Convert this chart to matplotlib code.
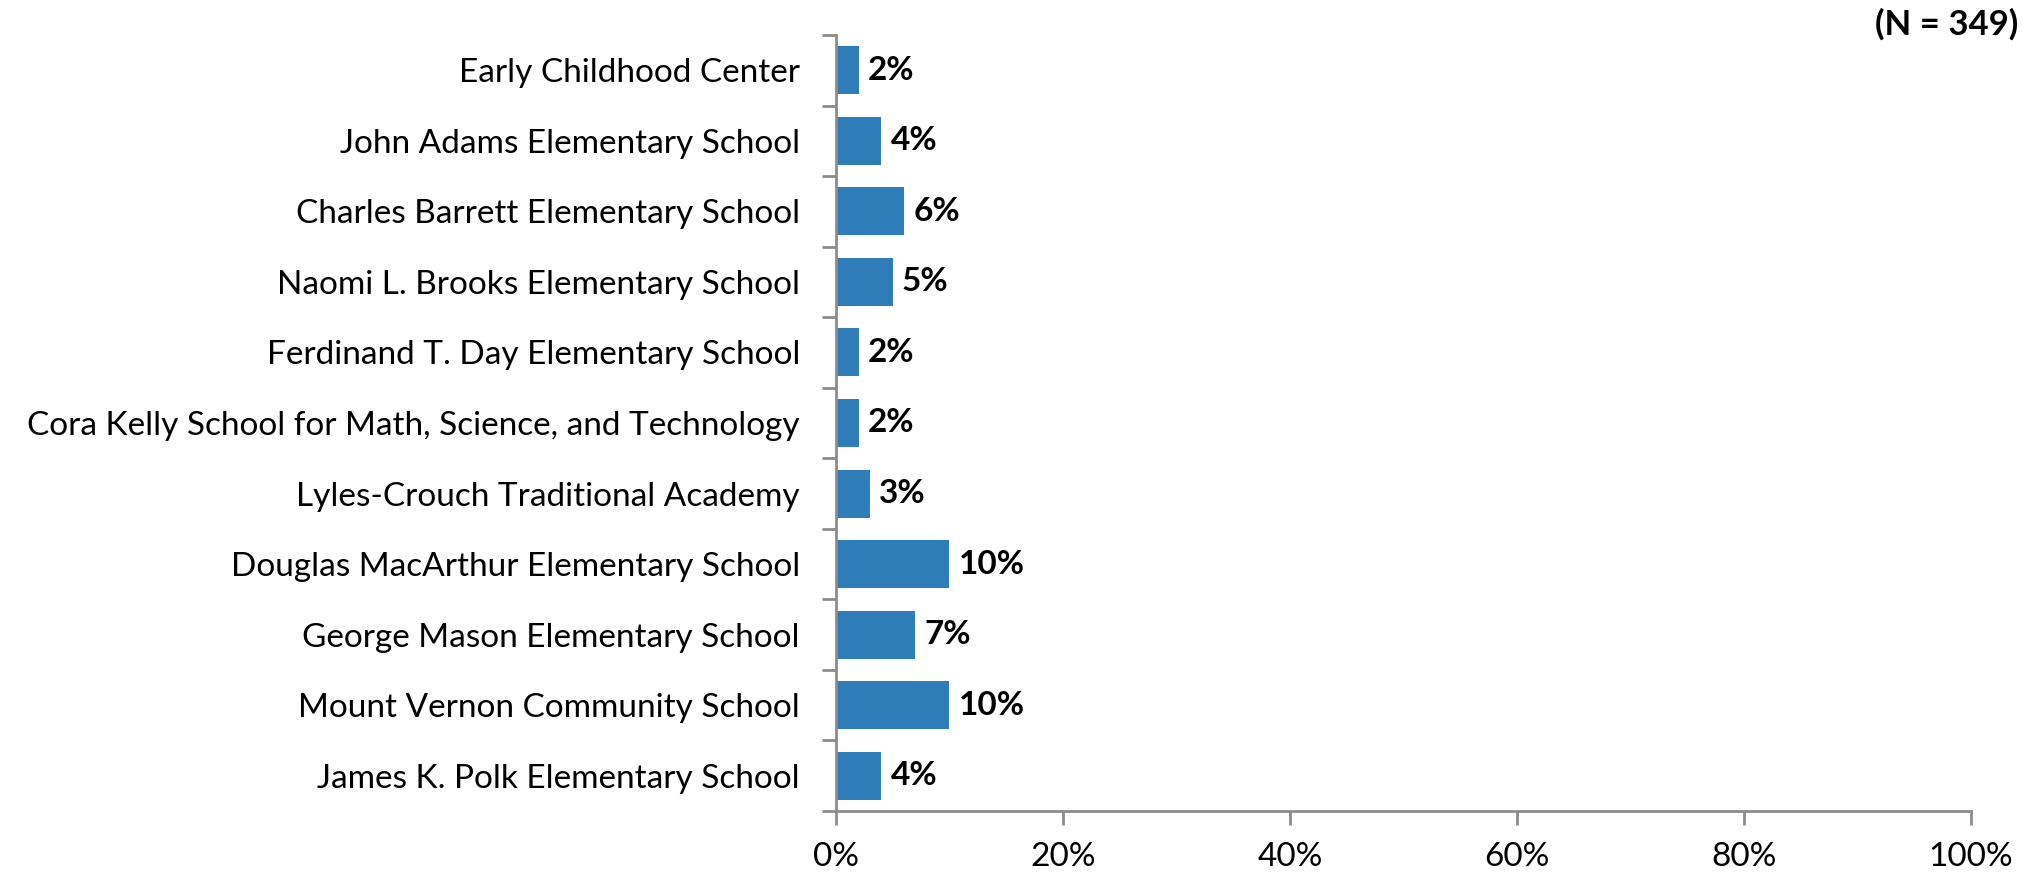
import matplotlib
matplotlib.use("Agg")
import matplotlib.pyplot as plt
from matplotlib.ticker import FuncFormatter, FixedLocator

plt.rcParams['font.family'] = ['Lato', 'DejaVu Sans']

schools = ["Early Childhood Center",
           "John Adams Elementary School",
           "Charles Barrett Elementary School",
           "Naomi L. Brooks Elementary School",
           "Ferdinand T. Day Elementary School",
           "Cora Kelly School for Math, Science, and Technology",
           "Lyles-Crouch Traditional Academy",
           "Douglas MacArthur Elementary School",
           "George Mason Elementary School",
           "Mount Vernon Community School",
           "James K. Polk Elementary School"]
pct = [2, 4, 6, 5, 2, 2, 3, 10, 7, 10, 4]
n_label = "(N = 349)"

bar_color = "#2E7DB8"
axis_color = "#8C8C8C"

fig = plt.figure(figsize=(20.31, 8.76), dpi=100)
ax = fig.add_axes([836/2031, 1-811/876, (1971-836)/2031, (811-35)/876])

ypos = list(range(len(schools)))[::-1]
ax.barh(ypos, pct, height=0.68, color=bar_color)
for y, v in zip(ypos, pct):
    ax.text(v + 0.8, y, f"{v}%", va="center", ha="left", fontsize=24, fontweight="bold")

ax.set_xlim(0, 100)
ax.set_ylim(-0.5, len(schools) - 0.5)
ax.set_xticks([0, 20, 40, 60, 80, 100])
ax.xaxis.set_major_formatter(FuncFormatter(lambda x, p: f"{int(x)}%"))
ax.set_yticks(ypos)
ax.set_yticklabels(schools)
ax.yaxis.set_minor_locator(FixedLocator([i - 0.5 for i in range(len(schools) + 1)]))
ax.tick_params(axis="y", which="major", length=0, pad=26, labelsize=24)
ax.tick_params(axis="y", which="minor", length=10, width=2, color=axis_color)
ax.tick_params(axis="x", length=10, width=2, color=axis_color, pad=12, labelsize=24)

for s in ["top", "right"]:
    ax.spines[s].set_visible(False)
for s in ["left", "bottom"]:
    ax.spines[s].set_color(axis_color)
    ax.spines[s].set_linewidth(2)

fig.text(2018/2031, 1-24/876, n_label, ha="right", va="center", fontsize=25, fontweight="bold")

fig.savefig("out.png", dpi=100)
